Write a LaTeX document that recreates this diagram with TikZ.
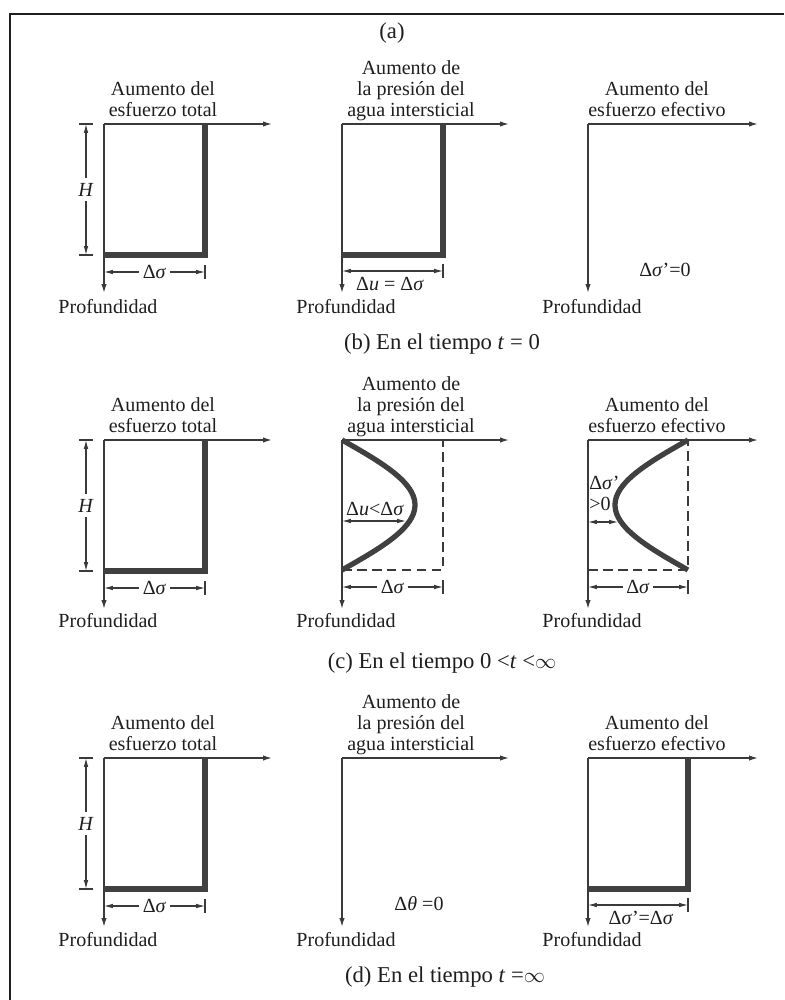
\documentclass[tikz,border=0pt]{standalone}
\usepackage{fontspec}
\setmainfont{Liberation Serif}
\usepackage{tikz}
\usetikzlibrary{arrows.meta}
\definecolor{AxGray}{HTML}{3A3A3A}
\definecolor{BarGray}{HTML}{404040}
\definecolor{TxtDark}{HTML}{1E1E1E}
\newcommand{\dsig}{Δ\textit{σ}}
\newcommand{\dsigp}{Δ\textit{σ}'}
\tikzset{
  axis/.style={draw=AxGray, line width=0.8pt, -{Latex[length=5pt,width=3pt]}},
  thickbar/.style={draw=BarGray, line width=3pt},
  curveline/.style={draw=BarGray, line width=3pt},
  dimline/.style={draw=AxGray, line width=0.6pt, {Latex[length=5pt,width=2.6pt]}-{Latex[length=5pt,width=2.6pt]}},
  tickline/.style={draw=AxGray, line width=0.6pt},
  dashline/.style={draw=AxGray, line width=0.8pt, dash pattern=on 5.5pt off 3pt},
  lbl/.style={font=\fontsize{11.4}{12}\selectfont, text=TxtDark, inner sep=0pt},
  head/.style={lbl, align=center, anchor=south},
  dimlbl/.style={lbl, fill=white, inner xsep=2pt, inner ysep=1pt},
  capt/.style={lbl, anchor=base, font=\fontsize{12.9}{14}\selectfont},
}

\begin{document}
\begin{tikzpicture}[x=0.02cm,y=-0.02cm]
\path[use as bounding box] (0,0) rectangle (784,1000);
\draw[line width=1pt, TxtDark] (10,1000) -- (10,14) -- (784,14);
\node[capt] (ta) at (392,39) {(a)};
% ---- (b) t = 0
\node[head] (hA1) at (163,123) {Aumento del\\esfuerzo total\strut};
\node[head] (hB1) at (411,123) {Aumento de\\la presión del\\agua intersticial\strut};
\node[head] (hC1) at (657,123) {Aumento del\\esfuerzo efectivo\strut};
\coordinate (oA1) at (104,124);
\coordinate (oB1) at (342,124);
\coordinate (oC1) at (588,124);
\draw[axis] (oA1) -- (272,124);
\draw[axis] (oA1) -- (104,293);
\draw[thickbar] (104,255) -- (205,255) -- (205,124);
\draw[tickline] (79,124) -- (93,124);
\draw[tickline] (79,255) -- (93,255);
\draw[dimline] (86,124) -- node[dimlbl, inner ysep=3pt] (HA1) {\textit{H}} (86,255);
\draw[dimline] (104,272) -- node[dimlbl] (dA1) {\dsig} (205,272);
\draw[tickline] (205,265) -- (205,279);
\node[lbl, anchor=base] (pA1) at (108,313) {Profundidad};
\draw[axis] (oB1) -- (509,124);
\draw[axis] (oB1) -- (342,293);
\draw[thickbar] (342,255) -- (443,255) -- (443,124);
\draw[dimline] (342,271) -- (443,271);
\draw[tickline] (443,264) -- (443,278);
\node[lbl] (dB1) at (390,284) {Δ\textit{u} = \dsig};
\node[lbl, anchor=base] (pB1) at (346,313) {Profundidad};
\draw[axis] (oC1) -- (758,124);
\draw[axis] (oC1) -- (588,293);
\node[lbl] (dC1) at (665,270) {\dsigp{}=0};
\node[lbl, anchor=base] (pC1) at (592,313) {Profundidad};
\node[capt] (cb) at (442,349) {(b) En el tiempo \textit{t} = 0};
% ---- (c) 0 < t < oo
\node[head] (hA2) at (163,439) {Aumento del\\esfuerzo total\strut};
\node[head] (hB2) at (411,439) {Aumento de\\la presión del\\agua intersticial\strut};
\node[head] (hC2) at (657,439) {Aumento del\\esfuerzo efectivo\strut};
\coordinate (oA2) at (104,440);
\coordinate (oB2) at (342,440);
\coordinate (oC2) at (588,440);
\draw[axis] (oA2) -- (272,440);
\draw[axis] (oA2) -- (104,609);
\draw[thickbar] (104,571) -- (205,571) -- (205,440);
\draw[tickline] (79,440) -- (93,440);
\draw[tickline] (79,571) -- (93,571);
\draw[dimline] (86,440) -- node[dimlbl, inner ysep=3pt] (HA2) {\textit{H}} (86,571);
\draw[dimline] (104,588) -- node[dimlbl] (dA2) {\dsig} (205,588);
\draw[tickline] (205,581) -- (205,595);
\node[lbl, anchor=base] (pA2) at (108,627) {Profundidad};
\draw[axis] (oB2) -- (509,440);
\draw[axis] (oB2) -- (342,609);
\draw[dashline] (342,570) -- (443,570) -- (443,440);
\draw[curveline] plot[domain=0:1, samples=41, smooth] ({342+73*sin(180*\x)}, {440+130*\x});
\node[lbl] (uB2) at (375,509) {Δ\textit{u}<\dsig};
\draw[dimline] (342,521) -- (406,521);
\draw[dimline] (342,587) -- node[dimlbl] (dB2) {\dsig} (443,587);
\draw[tickline] (443,580) -- (443,594);
\node[lbl, anchor=base] (pB2) at (346,627) {Profundidad};
\draw[axis] (oC2) -- (758,440);
\draw[axis] (oC2) -- (588,609);
\draw[dashline] (588,570) -- (688,570) -- (688,440);
\draw[curveline] plot[domain=0:1, samples=41, smooth] ({688-73*sin(180*\x)}, {440+130*\x});
\node[lbl, anchor=west, align=left] (uC2) at (589,493) {\dsigp\\>0};
\draw[dimline] (588,522) -- (618,522);
\draw[dimline] (588,587) -- node[dimlbl] (dC2) {\dsig} (688,587);
\draw[tickline] (688,580) -- (688,594);
\node[lbl, anchor=base] (pC2) at (592,627) {Profundidad};
\node[capt] (cc) at (442,668) {(c) En el tiempo 0 <\textit{t} <$\infty$};
% ---- (d) t = oo
\node[head] (hA3) at (163,757) {Aumento del\\esfuerzo total\strut};
\node[head] (hB3) at (411,757) {Aumento de\\la presión del\\agua intersticial\strut};
\node[head] (hC3) at (657,757) {Aumento del\\esfuerzo efectivo\strut};
\coordinate (oA3) at (104,758);
\coordinate (oB3) at (342,758);
\coordinate (oC3) at (588,758);
\draw[axis] (oA3) -- (272,758);
\draw[axis] (oA3) -- (104,927);
\draw[thickbar] (104,889) -- (205,889) -- (205,758);
\draw[tickline] (79,758) -- (93,758);
\draw[tickline] (79,889) -- (93,889);
\draw[dimline] (86,758) -- node[dimlbl, inner ysep=3pt] (HA3) {\textit{H}} (86,889);
\draw[dimline] (104,906) -- node[dimlbl] (dA3) {\dsig} (205,906);
\draw[tickline] (205,899) -- (205,913);
\node[lbl, anchor=base] (pA3) at (108,946) {Profundidad};
\draw[axis] (oB3) -- (509,758);
\draw[axis] (oB3) -- (342,927);
\node[lbl] (dB3) at (419,904) {Δ\textit{θ} =0};
\node[lbl, anchor=base] (pB3) at (346,946) {Profundidad};
\draw[axis] (oC3) -- (758,758);
\draw[axis] (oC3) -- (588,927);
\draw[thickbar] (588,889) -- (688,889) -- (688,758);
\draw[dimline] (588,905) -- (688,905);
\draw[tickline] (688,898) -- (688,912);
\node[lbl] (dC3) at (641,918) {\dsigp{}=\dsig};
\node[lbl, anchor=base] (pC3) at (592,946) {Profundidad};
\node[capt] (cd) at (445,982) {(d) En el tiempo \textit{t} =$\infty$};
\end{tikzpicture}
\end{document}
